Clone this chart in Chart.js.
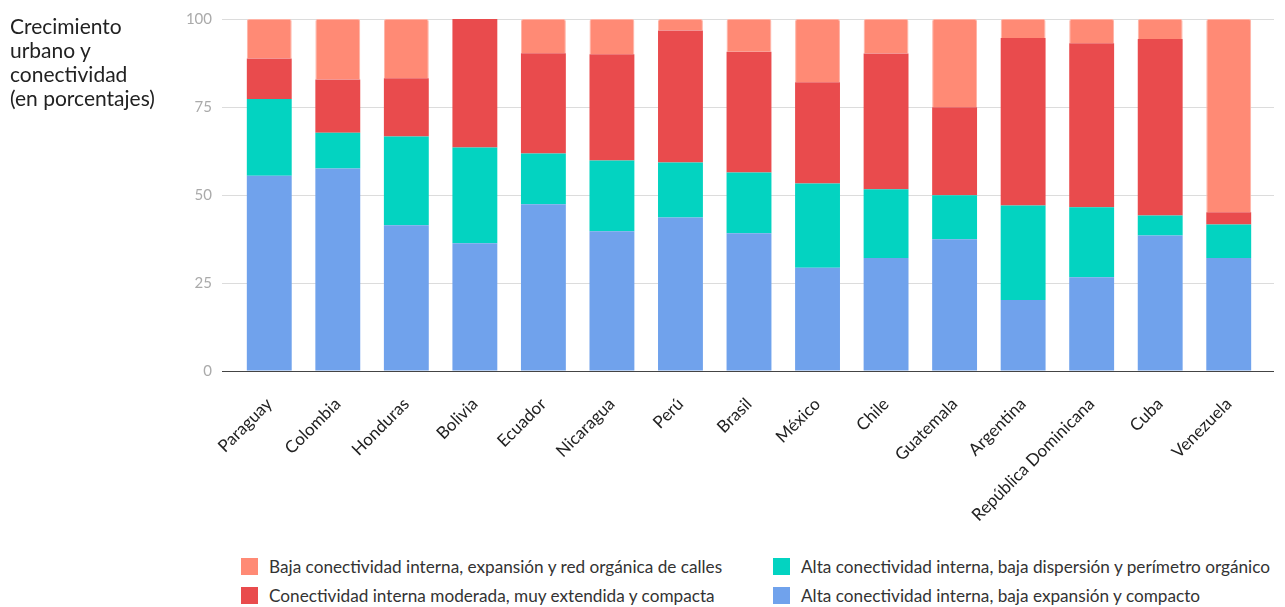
<!DOCTYPE html>
<html>
<head>
<meta charset="utf-8">
<script src="https://cdn.jsdelivr.net/npm/chart.js@4/dist/chart.umd.min.js"></script>
<style>
  body { margin: 0; background: #fff; font-family: Lato, "Open Sans", sans-serif; }
  #wrap { position: relative; width: 1285px; height: 607px; overflow: hidden; }
  #chart { position: absolute; left: 0; top: 0; }
  #titulo { position: absolute; left: 10px; top: 14px; width: 170px; font-size: 21px; line-height: 24px; color: #222; }
  #leyenda { position: absolute; left: 241px; top: 556px; display: grid; grid-template-columns: 532px auto; row-gap: 8px; }
  .item { display: flex; align-items: center; font-size: 17.2px; color: #333; height: 21px; white-space: nowrap; }
  .caja { width: 17px; height: 17px; margin-right: 11px; flex: none; }
</style>
</head>
<body>
<div id="wrap">
  <canvas id="chart" width="1285" height="550"></canvas>
  <div id="titulo">Crecimiento<br>urbano y<br>conectividad<br>(en porcentajes)</div>
  <div id="leyenda"></div>
</div>
<script>
// Datos
var paises = ['Paraguay', 'Colombia', 'Honduras', 'Bolivia', 'Ecuador', 'Nicaragua', 'Perú', 'Brasil',
  'México', 'Chile', 'Guatemala', 'Argentina', 'República Dominicana', 'Cuba', 'Venezuela'];

var altaExpansion = [55.5, 57.5, 41.4, 36.3, 47.4, 39.7, 43.6, 39.1, 29.3, 32.1, 37.4, 20.2, 26.6, 38.5, 32.1];
var altaDispersion = [21.8, 10.2, 25.2, 27.2, 14.4, 20.1, 15.6, 17.3, 24.0, 19.5, 12.5, 26.8, 19.9, 5.7, 9.5];
var moderada = [11.5, 15.1, 16.6, 36.5, 28.5, 30.2, 37.5, 34.3, 28.7, 38.6, 25.0, 47.6, 46.6, 50.1, 3.5];
var baja = [11.2, 17.2, 16.8, 0, 9.7, 10.0, 3.3, 9.3, 18.0, 9.8, 25.1, 5.4, 6.9, 5.7, 54.9];

var yTicks = [0, 25, 50, 75, 100];

var series = [
  { label: 'Alta conectividad interna, baja expansión y compacto', data: altaExpansion, color: '#70A2EC' },
  { label: 'Alta conectividad interna, baja dispersión y perímetro orgánico', data: altaDispersion, color: '#03D3C1' },
  { label: 'Conectividad interna moderada, muy extendida y compacta', data: moderada, color: '#E94B4D' },
  { label: 'Baja conectividad interna, expansión y red orgánica de calles', data: baja, color: '#FF8A75' }
];

function colorGrid(ctx) {
  return ctx.tick && ctx.tick.value === 0 ? '#444' : '#dcdcdc';
}

var datasets = series.map(function (s, i) {
  return {
    label: s.label,
    data: s.data,
    backgroundColor: s.color,
    borderColor: i === 3 ? '#FFB3A6' : s.color,
    borderWidth: i === 3 ? { top: 1, left: 1, right: 1, bottom: 0 } : 0,
    borderRadius: i === 3 ? { topLeft: 2, topRight: 2 } : 0,
    borderSkipped: false,
    barPercentage: 0.655,
    categoryPercentage: 1
  };
});

document.addEventListener('DOMContentLoaded', function () {
  Chart.defaults.font.family = 'Lato, "Open Sans", sans-serif';

  new Chart(document.getElementById('chart').getContext('2d'), {
    type: 'bar',
    data: { labels: paises, datasets: datasets },
    options: {
      responsive: false,
      animation: false,
      layout: { padding: { top: 18, right: 11, left: 0, bottom: 0 } },
      plugins: { legend: { display: false }, tooltip: { enabled: false } },
      scales: {
        x: {
          stacked: true,
          afterFit: function (s) { s.height = 179; },
          grid: { display: false },
          border: { display: false },
          ticks: {
            autoSkip: false, maxRotation: 45, minRotation: 45,
            color: '#222', font: { size: 17 }, padding: 15
          }
        },
        y: {
          stacked: true,
          min: 0, max: 100,
          afterBuildTicks: function (s) { s.ticks = yTicks.map(function (v) { return { value: v }; }); },
          afterFit: function (s) { s.width = 235; },
          border: { display: false },
          grid: { color: colorGrid, tickLength: 13, lineWidth: 1 },
          ticks: { color: '#aaa', font: { size: 15 }, padding: 10 }
        },
        y2: {
          position: 'right',
          min: 0, max: 100,
          afterBuildTicks: function (s) { s.ticks = yTicks.map(function (v) { return { value: v }; }); },
          afterFit: function (s) { s.width = 11; },
          border: { display: false },
          grid: { color: colorGrid, tickLength: 11, drawOnChartArea: false },
          ticks: { display: false }
        }
      }
    }
  });

  // Leyenda en dos columnas
  var orden = [3, 1, 2, 0];
  var leyenda = document.getElementById('leyenda');
  orden.forEach(function (i) {
    var item = document.createElement('div');
    item.className = 'item';
    var caja = document.createElement('span');
    caja.className = 'caja';
    caja.style.background = series[i].color;
    item.appendChild(caja);
    item.appendChild(document.createTextNode(series[i].label));
    leyenda.appendChild(item);
  });
});
</script>
</body>
</html>
